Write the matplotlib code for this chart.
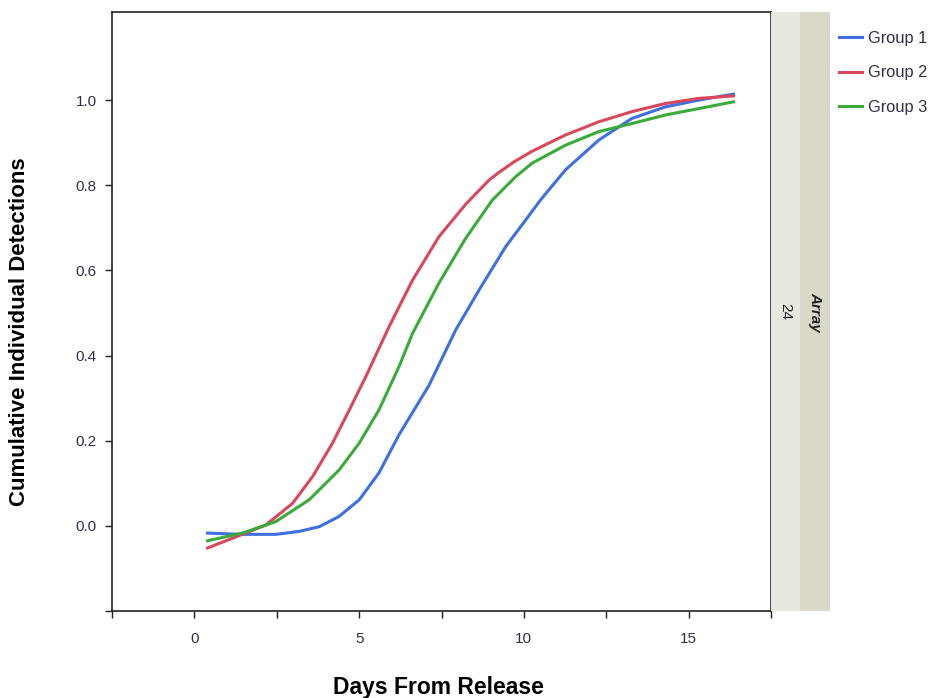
import matplotlib.pyplot as plt
import numpy as np

plt.rcParams['font.family'] = ['Liberation Sans', 'DejaVu Sans']

# Curves: days from release and cumulative detections
g1_days = [0.4, 1.46, 2.47, 3.18, 3.79, 4.39, 5.0, 5.6, 6.21, 7.12, 7.93, 8.64,
           9.45, 10.05, 10.5, 11.26, 12.27, 12.88, 13.28, 14.29, 15.3, 16.36]
g1_vals = [-0.017, -0.020, -0.020, -0.013, -0.002, 0.022, 0.061, 0.124, 0.214, 0.33,
           0.46, 0.554, 0.656, 0.718, 0.765, 0.836, 0.906, 0.937, 0.957, 0.984, 1.0, 1.014]

g2_days = [0.4, 1.16, 2.17, 2.98, 3.59, 4.19, 4.7, 5.2, 5.91, 6.62, 7.42, 8.23,
           8.94, 9.24, 9.70, 10.25, 11.26, 12.27, 13.28, 14.29, 15.3, 16.36]
g2_vals = [-0.052, -0.029, 0.002, 0.053, 0.116, 0.194, 0.272, 0.35, 0.468, 0.577, 0.679,
           0.755, 0.812, 0.830, 0.855, 0.880, 0.918, 0.949, 0.973, 0.992, 1.004, 1.010]

g3_days = [0.4, 1.46, 2.47, 3.48, 4.39, 5.0, 5.6, 6.21, 6.62, 7.42, 8.23, 9.04,
           9.75, 10.25, 11.26, 12.27, 13.28, 14.29, 15.3, 16.36]
g3_vals = [-0.035, -0.017, 0.010, 0.061, 0.131, 0.194, 0.272, 0.374, 0.452, 0.570,
           0.675, 0.765, 0.820, 0.852, 0.894, 0.926, 0.945, 0.965, 0.980, 0.996]

labels = ['Group 1', 'Group 2', 'Group 3']
colors = ['#3f6fe0', '#d9475a', '#3aaa3a']
text_color = '#2e2e48'

fig = plt.figure(figsize=(9.33, 6.98), dpi=100)
ax = fig.add_axes([112/933, 87/698, (771-112)/933, (611-12)/698])

series = [(g1_days, g1_vals), (g2_days, g2_vals), (g3_days, g3_vals)]
for (x, y), lab, c in zip(series, labels, colors):
    ax.plot(x, y, color=c, lw=2.2, label=lab, solid_joinstyle='round')

ax.set_xlim(-2.5, 17.5)
ax.set_ylim(-0.2, 1.207)
xt = np.arange(-2.5, 17.6, 2.5)
ax.set_xticks(xt)
ax.set_xticklabels(['' if v % 5 else f'{int(v)}' for v in xt])
ax.set_yticks(np.arange(-0.2, 1.01, 0.2))
ax.set_yticklabels([''] + [f'{v:.1f}' for v in np.arange(0, 1.01, 0.2)])
ax.tick_params(length=5, width=1, colors='#222222', labelcolor=text_color, labelsize=11, pad=6)
ax.tick_params(axis='x', pad=10)
for s in ax.spines.values():
    s.set_color('#222222')
    s.set_linewidth(1.2)

ax.set_xlabel('Days From Release', fontsize=16.5, fontweight='bold')
ax.xaxis.set_label_coords(0.495, -0.108)
ax.set_ylabel('Cumulative Individual Detections', fontsize=16, fontweight='bold')
ax.yaxis.set_label_coords(-0.125, 0.466)

# facet strips on the right
strip1 = fig.add_axes([771/933, 87/698, 29/933, (611-12)/698])
strip1.set_facecolor('#e8e8e0')
strip2 = fig.add_axes([800/933, 87/698, 30/933, (611-12)/698])
strip2.set_facecolor('#dad8c8')
for s_ax in (strip1, strip2):
    s_ax.set_xticks([])
    s_ax.set_yticks([])
    for s in s_ax.spines.values():
        s.set_visible(False)
strip1.text(0.5, 0.5, '24', rotation=-90, ha='center', va='center', fontsize=11,
            color='#222222', transform=strip1.transAxes)
strip2.text(0.5, 0.5, 'Array', rotation=-90, ha='center', va='center', fontsize=11,
            fontweight='bold', fontstyle='italic', color='#222222', transform=strip2.transAxes)

handles, labs = ax.get_legend_handles_labels()
fig.legend(handles, labs, loc='upper left', bbox_to_anchor=(824/933, 1 - 16/698),
           frameon=False, fontsize=11.8, labelcolor=text_color, handlelength=1.4,
           handletextpad=0.4, labelspacing=1.2)

fig.savefig('out.png', dpi=100)
